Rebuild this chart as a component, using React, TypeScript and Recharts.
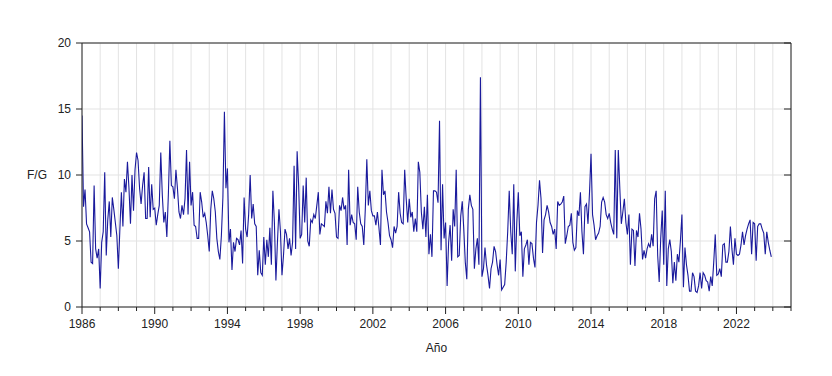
import React from 'react';
import { LineChart, Line, XAxis, YAxis, CartesianGrid } from 'recharts';

// Serie mensual F/G, desde enero de 1986
const ANIO_INICIO = 1986;

const fg1986a1992 = [
    14.5, 7.6, 8.9, 6.3, 6.0, 5.7, 3.4, 3.3, 9.2, 4.4, 3.7, 4.4,
    1.4, 4.9, 5.7, 10.2, 3.9, 6.6, 8.0, 5.3, 8.3, 7.4, 6.4, 5.4,
    2.9, 5.9, 8.7, 6.1, 9.7, 8.7, 11.0, 9.0, 6.3, 10.0, 7.3, 10.4,
    11.7, 11.1, 9.0, 7.8, 9.2, 10.2, 6.7, 6.7, 10.6, 6.8, 9.3, 7.4,
    7.5, 6.2, 7.0, 7.7, 11.7, 8.5, 6.4, 7.2, 5.3, 8.5, 12.6, 9.2,
    9.1, 8.2, 10.4, 9.0, 7.2, 6.7, 7.7, 7.0, 8.2, 11.9, 7.0, 11.0,
    7.7, 8.7, 6.2, 6.1, 5.2,
];

const fg1992a1999 = [
    5.2, 8.7, 7.95, 6.8, 7.1, 6.4, 5.4, 4.2, 7.4, 8.8, 8.2, 7.2,
    5.2, 4.2, 3.6, 5.4, 8.3, 14.8, 9.0, 10.5, 4.9, 5.9, 2.8, 4.9,
    4.2, 5.2, 5.1, 4.7, 5.8, 3.3, 8.3, 5.9, 5.3, 7.0, 10.0, 6.7,
    7.8, 6.3, 6.1, 2.4, 4.3, 2.6, 2.4, 5.3, 3.2, 5.1, 3.8, 6.0,
    3.2, 8.8, 6.4, 2.0, 4.9, 7.4, 5.7, 2.4, 3.9, 5.9, 5.5, 4.4,
    5.2, 3.9, 4.9, 10.7, 4.4, 11.8, 9.2, 5.2, 5.5, 9.2, 6.4, 9.8,
    5.0, 4.6, 6.6, 6.4, 7.0, 6.7, 7.7, 8.7, 5.5,
];

const fg1999a2005 = [
    6.3, 6.2, 6.1, 8.0, 7.1, 9.1, 7.1, 8.9, 7.4, 7.1, 5.3, 5.2,
    7.7, 7.3, 8.3, 7.4, 7.7, 4.7, 10.4, 6.2, 7.0, 6.4, 6.3, 5.1,
    9.1, 7.2, 6.3, 6.1, 4.7, 7.4, 11.2, 7.7, 8.8, 7.3, 6.9, 6.9,
    6.2, 7.2, 6.0, 4.7, 10.4, 8.5, 8.8, 7.2, 6.4, 5.4, 5.1, 4.5,
    6.1, 5.6, 6.1, 8.7, 7.1, 6.4, 6.3, 10.4, 8.2, 6.4, 8.2, 6.8,
    7.2, 5.7, 6.7, 5.7, 11.0, 10.2, 7.2, 5.9, 7.6, 5.3, 8.5, 4.0,
    5.5, 3.8, 8.8, 8.8, 8.7, 7.9, 14.1,
];

const fg2005a2012 = [
    4.3, 9.3, 5.2, 6.4, 1.6, 4.9, 6.2, 3.5, 7.4, 6.1, 10.4, 3.8,
    3.9, 6.9, 8.0, 5.9, 3.4, 2.1, 7.4, 8.5, 7.7, 7.4, 2.9, 4.4,
    5.2, 3.2, 17.4, 2.3, 2.9, 4.5, 3.2, 2.4, 1.4, 2.9, 3.4, 4.6,
    4.2, 3.2, 2.4, 3.6, 1.3, 1.5, 1.7, 3.4, 5.7, 8.8, 5.7, 4.0,
    9.3, 2.7, 6.4, 8.7, 5.4, 5.7, 2.3, 4.4, 4.7, 5.1, 3.2, 4.9,
    4.8, 3.7, 3.0, 6.4, 7.7, 9.6, 8.2, 4.1, 6.6, 7.0, 7.7, 7.2,
    6.4, 6.1, 5.5, 5.9, 4.4, 8.0, 7.7,
];

const fg2012a2018 = [
    7.8, 7.95, 8.4, 4.8, 5.4, 6.1, 6.2, 7.1, 4.9, 4.3, 4.5, 7.3,
    6.9, 8.7, 5.7, 4.0, 7.6, 7.8, 6.3, 8.7, 11.6, 7.0, 6.2, 5.1,
    5.4, 5.6, 6.1, 7.95, 8.3, 7.95, 7.0, 6.7, 7.1, 6.4, 5.9, 5.5,
    11.9, 5.2, 11.9, 9.0, 6.3, 7.2, 8.2, 6.4, 5.5, 7.0, 3.2, 5.9,
    5.8, 3.1, 5.8, 5.3, 7.1, 5.9, 3.6, 4.3, 3.7, 4.4, 4.8, 4.5,
    5.5, 4.6, 8.2, 8.8, 3.9, 1.9, 5.2, 7.3, 3.2, 8.8, 1.6, 4.4,
    5.1, 4.2, 1.8, 3.4, 2.0, 4.0, 3.4,
];

const fg2018a2023 = [
    5.0, 7.0, 1.5, 4.5, 3.2, 2.4, 1.2, 1.2, 2.6, 2.3, 1.2, 1.1,
    1.6, 2.6, 1.4, 2.6, 2.4, 2.0, 1.9, 1.2, 2.3, 1.6, 3.4, 5.5,
    2.4, 2.5, 2.9, 2.3, 4.7, 4.8, 3.4, 3.4, 4.2, 6.1, 4.4, 3.2,
    5.2, 4.0, 3.9, 4.0, 4.7, 5.7, 4.7, 5.4, 5.9, 6.3, 6.6, 4.0,
    6.4, 6.3, 3.5, 6.1, 6.3, 6.3, 5.9, 5.6, 4.0, 5.7, 4.9, 4.3,
    3.8,
];

const FG_MENSUAL = [
    ...fg1986a1992, ...fg1992a1999, ...fg1999a2005,
    ...fg2005a2012, ...fg2012a2018, ...fg2018a2023,
];

const TICKS_ANIO = [
    1986, 1987, 1988, 1989, 1990, 1991, 1992, 1993, 1994, 1995,
    1996, 1997, 1998, 1999, 2000, 2001, 2002, 2003, 2004, 2005,
    2006, 2007, 2008, 2009, 2010, 2011, 2012, 2013, 2014, 2015,
    2016, 2017, 2018, 2019, 2020, 2021, 2022, 2023, 2024, 2025,
];
const ANIOS_ETIQUETA = [1986, 1990, 1994, 1998, 2002, 2006, 2010, 2014, 2018, 2022];
const TICKS_FG = [0, 5, 10, 15, 20];

const data = FG_MENSUAL.map((fg, i) => ({ fecha: ANIO_INICIO + i / 12, fg }));

const FUENTE = '"Liberation Sans", Arial, Helvetica, sans-serif';
const COLOR_EJE = '#222';

const TickInferior = ({ x, y, payload }: any) => {
    const mayor = ANIOS_ETIQUETA.includes(payload.value);
    return (
        <g>
            <line x1={x} x2={x} y1={y} y2={y + (mayor ? 7 : 4)} stroke={COLOR_EJE} />
            {mayor && (
                <text x={x} y={y + 20.5} textAnchor="middle" fontSize={12} fontFamily={FUENTE} fill={COLOR_EJE}>
                    {payload.value}
                </text>
            )}
        </g>
    );
};

const TickSuperior = ({ x, y, payload }: any) => {
    const mayor = ANIOS_ETIQUETA.includes(payload.value);
    return <line x1={x} x2={x} y1={y} y2={y + (mayor ? 7 : 5)} stroke={COLOR_EJE} />;
};

const TickIzquierdo = ({ x, y, payload }: any) => (
    <g>
        <line x1={x - 6} x2={x} y1={y} y2={y} stroke={COLOR_EJE} />
        <text x={x - 11} y={y + 4.3} textAnchor="end" fontSize={12} fontFamily={FUENTE} fill={COLOR_EJE}>
            {payload.value}
        </text>
    </g>
);

const TickDerecho = ({ x, y }: any) => (
    <line x1={x - 7} x2={x} y1={y} y2={y} stroke={COLOR_EJE} />
);

const App = () => {
    return (
        <div style={{ width: 832, height: 376 }}>
            <style>{'body { margin: 0; }'}</style>
            <LineChart
                width={832}
                height={376}
                data={data}
                margin={{ top: 42, right: 40, bottom: 0, left: 0 }}
            >
                <CartesianGrid stroke="#e3e3e3" />
                <XAxis
                    dataKey="fecha"
                    type="number"
                    domain={[1986, 2025]}
                    allowDataOverflow
                    ticks={TICKS_ANIO}
                    interval={0}
                    height={69}
                    tickSize={0}
                    tickMargin={0}
                    tickLine={false}
                    tick={<TickInferior />}
                    axisLine={{ stroke: COLOR_EJE }}
                    label={{
                        content: ({ viewBox }: any) => (
                            <text
                                x={viewBox.x + viewBox.width / 2}
                                y={viewBox.y + 45}
                                textAnchor="middle"
                                fontSize={12}
                                fontFamily={FUENTE}
                                fill={COLOR_EJE}
                            >
                                Año
                            </text>
                        ),
                    }}
                />
                <XAxis
                    xAxisId="sup"
                    orientation="top"
                    type="number"
                    domain={[1986, 2025]}
                    allowDataOverflow
                    ticks={TICKS_ANIO}
                    interval={0}
                    height={1}
                    tickSize={0}
                    tickMargin={0}
                    tickLine={false}
                    tick={<TickSuperior />}
                    axisLine={{ stroke: COLOR_EJE }}
                />
                <YAxis
                    type="number"
                    domain={[0, 20]}
                    allowDataOverflow
                    ticks={TICKS_FG}
                    interval={0}
                    width={82}
                    tickSize={0}
                    tickMargin={0}
                    tickLine={false}
                    tick={<TickIzquierdo />}
                    axisLine={{ stroke: COLOR_EJE }}
                    label={{
                        content: ({ viewBox }: any) => (
                            <text
                                x={viewBox.x + 27}
                                y={viewBox.y + viewBox.height / 2 + 4.3}
                                textAnchor="start"
                                fontSize={12}
                                fontFamily={FUENTE}
                                fill={COLOR_EJE}
                            >
                                F/G
                            </text>
                        ),
                    }}
                />
                <YAxis
                    yAxisId="der"
                    orientation="right"
                    type="number"
                    domain={[0, 20]}
                    allowDataOverflow
                    ticks={TICKS_FG}
                    interval={0}
                    width={1}
                    tickSize={0}
                    tickMargin={0}
                    tickLine={false}
                    tick={<TickDerecho />}
                    axisLine={{ stroke: COLOR_EJE }}
                />
                <Line
                    type="linear"
                    dataKey="fg"
                    stroke="#1a1a9c"
                    strokeWidth={1.1}
                    dot={false}
                    isAnimationActive={false}
                />
            </LineChart>
        </div>
    );
};

export default App;
